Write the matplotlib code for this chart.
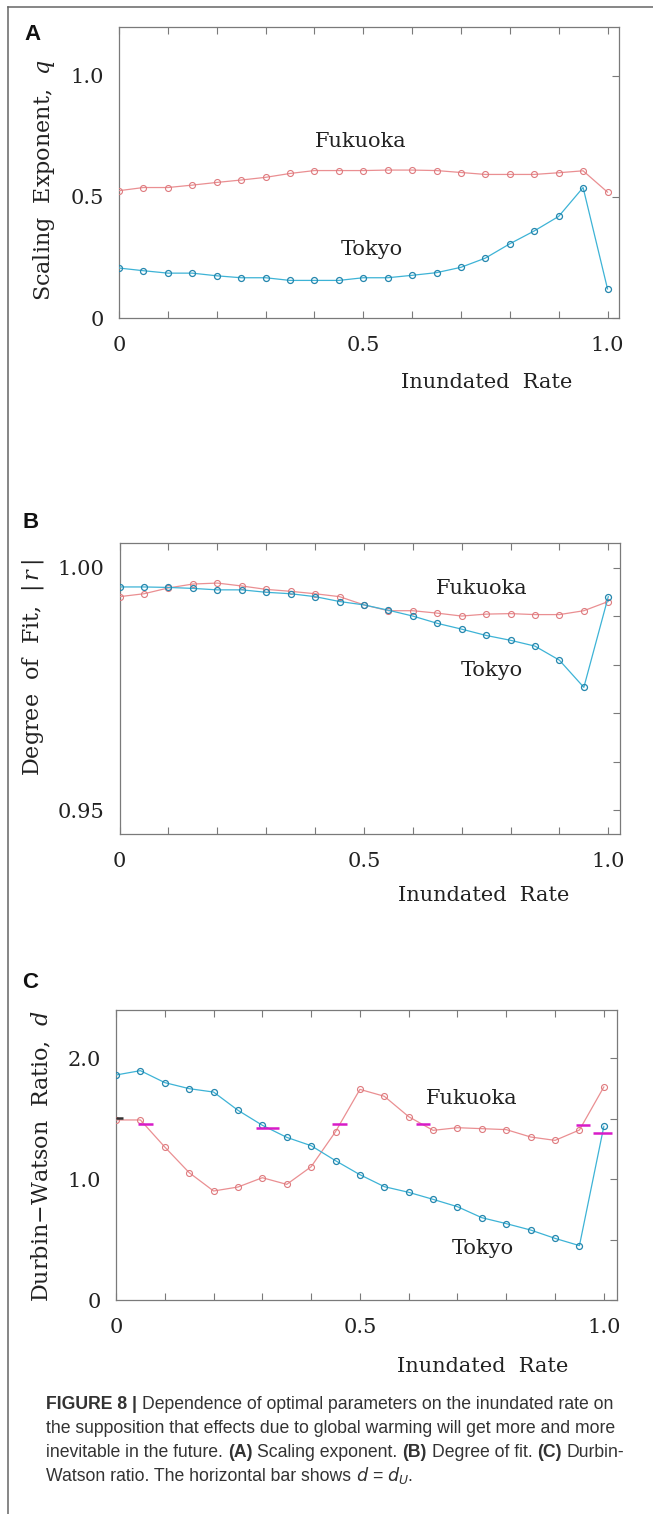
import matplotlib
matplotlib.use("Agg")
import matplotlib.pyplot as plt
from matplotlib.lines import Line2D

# inundated rate (x) for every run
rate = [0.00, 0.05, 0.10, 0.15, 0.20, 0.25, 0.30, 0.35, 0.40, 0.45, 0.50,
        0.55, 0.60, 0.65, 0.70, 0.75, 0.80, 0.85, 0.90, 0.95, 1.00]

# (A) scaling exponent q
q_fukuoka = [0.525, 0.538, 0.538, 0.548, 0.559, 0.569, 0.580, 0.596, 0.608, 0.608, 0.608,
             0.610, 0.610, 0.608, 0.600, 0.592, 0.592, 0.592, 0.599, 0.607, 0.519]
q_tokyo = [0.206, 0.195, 0.185, 0.185, 0.174, 0.166, 0.166, 0.155, 0.155, 0.155, 0.166,
           0.166, 0.176, 0.187, 0.209, 0.247, 0.306, 0.359, 0.419, 0.538, 0.120]

# (B) degree of fit |r|
r_fukuoka = [0.9940, 0.9946, 0.9958, 0.9966, 0.9968, 0.9962, 0.9955, 0.9951, 0.9946, 0.9940, 0.9923,
             0.9911, 0.9911, 0.9906, 0.9900, 0.9904, 0.9905, 0.9903, 0.9903, 0.9911, 0.9930]
r_tokyo = [0.9960, 0.9960, 0.9959, 0.9957, 0.9954, 0.9954, 0.9949, 0.9946, 0.9940, 0.9930, 0.9923,
           0.9912, 0.9900, 0.9885, 0.9873, 0.9860, 0.9850, 0.9838, 0.9809, 0.9753, 0.9940]

# (C) Durbin-Watson ratio d
d_fukuoka = [1.490, 1.490, 1.266, 1.054, 0.902, 0.935, 1.012, 0.957, 1.103, 1.393, 1.743,
             1.686, 1.517, 1.404, 1.426, 1.418, 1.410, 1.349, 1.321, 1.407, 1.763]
d_tokyo = [1.862, 1.898, 1.799, 1.749, 1.721, 1.570, 1.446, 1.346, 1.277, 1.153, 1.037,
           0.938, 0.891, 0.833, 0.772, 0.681, 0.632, 0.579, 0.510, 0.450, 1.437]

# horizontal bars d = dU
du_start = [0.000, 0.045, 0.287, 0.443, 0.615, 0.943, 0.977]
du_end = [0.014, 0.076, 0.334, 0.473, 0.643, 0.971, 1.016]
du_value = [1.507, 1.457, 1.424, 1.457, 1.457, 1.450, 1.385]

x_ticks = [0.0, 0.1, 0.2, 0.3, 0.4, 0.5, 0.6, 0.7, 0.8, 0.9, 1.0]
x_ticklabels = ["0", "", "", "", "", "0.5", "", "", "", "", "1.0"]

W, H = 653, 1514
FUK_LINE = "#ea8f92"
FUK_MARK = "#de7a7e"
TOK_LINE = "#3db3d6"
TOK_MARK = "#2486ad"
SPINE = "#7a7a7a"
TXT = "#222222"

plt.rcParams["font.family"] = ["DejaVu Serif"]
plt.rcParams["mathtext.fontset"] = "dejavuserif"

fig = plt.figure(figsize=(W / 100, H / 100), dpi=100)


def rect(left, top, right, bottom):
    return [left / W, 1 - bottom / H, (right - left) / W, (bottom - top) / H]


def panel(ax, fuk, tok, xmax, ylim, yticks, ylabels):
    ax.plot(rate, fuk, color=FUK_LINE, lw=0.9, marker="o", ms=4.3,
            mfc="none", mec=FUK_MARK, mew=0.8, zorder=3)
    ax.plot(rate, tok, color=TOK_LINE, lw=0.9, marker="o", ms=4.3,
            mfc="none", mec=TOK_MARK, mew=0.9, zorder=4)
    ax.set_xlim(0, xmax)
    ax.set_ylim(*ylim)
    ax.set_xticks(x_ticks)
    ax.set_xticklabels(x_ticklabels)
    ax.set_yticks(yticks)
    ax.set_yticklabels(ylabels)
    ax.tick_params(axis="x", direction="in", top=True, bottom=True, length=5,
                   width=0.8, color=SPINE, pad=13, labelsize=15, labelcolor=TXT)
    ax.tick_params(axis="y", direction="in", left=False, right=True,
                   labelleft=True, labelright=False, length=5, width=0.8,
                   color=SPINE, pad=11, labelsize=15, labelcolor=TXT)
    for s in ax.spines.values():
        s.set_color(SPINE)
        s.set_linewidth(0.9)


def xlabel(ax, xf, yf):
    ax.set_xlabel("Inundated  Rate", fontsize=15, color=TXT, va="center")
    ax.xaxis.set_label_coords(xf, yf)


def ylabel(ax, text, xf, yf):
    ax.set_ylabel(text, fontsize=16, color=TXT, va="center", ha="center")
    ax.yaxis.set_label_coords(xf, yf)


# ---- A ----
axA = fig.add_axes(rect(119, 27, 619, 318))
panel(axA, q_fukuoka, q_tokyo, 1.0235, (0, 1.2), [0, 0.5, 1.0], ["0", "0.5", "1.0"])
axA.text(0.494, 0.728, "Fukuoka", fontsize=15, color=TXT, ha="center", va="center")
axA.text(0.518, 0.284, "Tokyo", fontsize=15, color=TXT, ha="center", va="center")
xlabel(axA, 0.735, -64 / 291)
ylabel(axA, "Scaling  Exponent,  $q$", -0.15, 0.474)

# ---- B ----
axB = fig.add_axes(rect(119.6, 543.3, 620, 834.3))
panel(axB, r_fukuoka, r_tokyo, 1.024, (0.945, 1.005),
      [0.95, 0.96, 0.97, 0.98, 0.99, 1.00], ["0.95", "", "", "", "", "1.00"])
axB.text(0.741, 0.99567, "Fukuoka", fontsize=15, color=TXT, ha="center", va="center")
axB.text(0.762, 0.97871, "Tokyo", fontsize=15, color=TXT, ha="center", va="center")
xlabel(axB, 0.728, -61 / 291)
ylabel(axB, "Degree  of  Fit,  $|\\,r\\,|$", -0.173, 0.571)

# ---- C ----
axC = fig.add_axes(rect(116, 1010, 617, 1300))
panel(axC, d_fukuoka, d_tokyo, 1.027, (0, 2.4),
      [0, 0.5, 1.0, 1.5, 2.0], ["0", "", "1.0", "", "2.0"])
axC.hlines(du_value, du_start, du_end,
           colors=["#333333"] + ["#d81bc8"] * (len(du_value) - 1), lw=1.8, zorder=5)
axC.text(0.730, 1.669, "Fukuoka", fontsize=15, color=TXT, ha="center", va="center")
axC.text(0.751, 0.428, "Tokyo", fontsize=15, color=TXT, ha="center", va="center")
xlabel(axC, 0.7315, -67 / 290)
ylabel(axC, "Durbin\u2212Watson  Ratio,  $d$", -0.148, 0.497)

# panel letters
for letter, (px, py) in zip("ABC", [(32.5, 35), (30.5, 523), (30.5, 983)]):
    fig.text(px / W, 1 - py / H, letter, fontsize=16, weight="bold",
             family="Liberation Sans", ha="center", va="center", color="#111111")

# page frame
fig.add_artist(Line2D([8 / W, 8 / W], [0, 1 - 7 / H], color="#666666", lw=1.1))
fig.add_artist(Line2D([8 / W, 1], [1 - 7 / H, 1 - 7 / H], color="#666666", lw=1.1))

# caption
renderer = fig.canvas.get_renderer()


def width_of(s, **kw):
    t = fig.text(0, 0, s, **kw)
    w = t.get_window_extent(renderer).width
    t.remove()
    return w


cap_kw = dict(family="Liberation Sans", color="#333333")
ref_w = width_of("the supposition that effects due to global warming will get more and more",
                 fontsize=12, **cap_kw)
cap_fs = 12 * 572 / ref_w
space = width_of("x x", fontsize=cap_fs, **cap_kw) - width_of("xx", fontsize=cap_fs, **cap_kw)

caption_lines = [
    [("FIGURE 8", True), ("|", True), ("Dependence of optimal parameters on the inundated rate on", False)],
    [("the supposition that effects due to global warming will get more and more", False)],
    [("inevitable in the future.", False), ("(A)", True), ("Scaling exponent.", False),
     ("(B)", True), ("Degree of fit.", False), ("(C)", True), ("Durbin-", False)],
    [("Watson ratio. The horizontal bar shows", False), ("$d$ = $d_U$.", False)],
]
for i, runs in enumerate(caption_lines):
    x = 46
    y = 1 - (1409 + 24 * i) / H
    for txt, bold in runs:
        kw = dict(fontsize=cap_fs, weight="bold" if bold else "normal", **cap_kw)
        t = fig.text(x / W, y, txt, va="baseline", ha="left",
                     math_fontfamily="dejavusans", **kw)
        x += t.get_window_extent(renderer).width + space

fig.savefig("out.png", dpi=100)
